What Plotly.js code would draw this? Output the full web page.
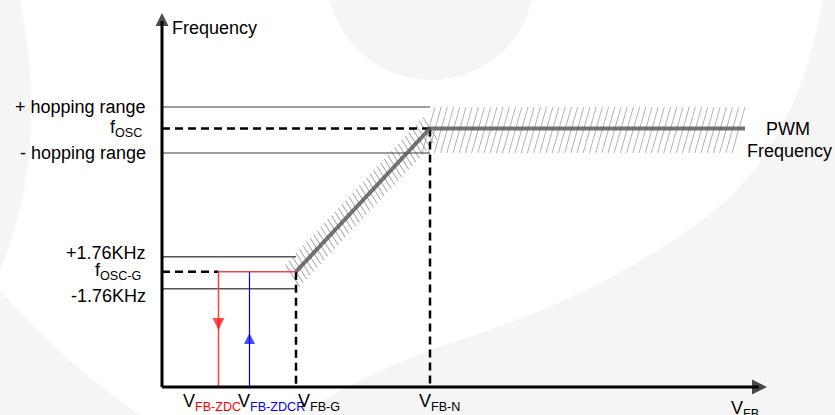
<!DOCTYPE html>
<html><head><meta charset="utf-8">
<script src="https://cdn.plot.ly/plotly-3.0.1.min.js"></script>
<style>html,body{margin:0;padding:0;background:#fff}</style>
</head><body><div id="chart" style="width:835px;height:415px"></div>
<script>
// ---- Data (schematic units; origin where the two axes meet) ----
// Feedback-voltage levels along the horizontal axis
const vNames  = ['V_FB-ZDC', 'V_FB-ZDCR', 'V_FB-G', 'V_FB-N', 'PWM end'];
const vLevels = [56.5, 87.5, 134, 268, 583];
// Frequency levels along the vertical axis
const fNames  = ['-1.76KHz', 'f_OSC-G', '+1.76KHz', '- hopping range', 'f_OSC', '+ hopping range'];
const fLevels = [98.3, 115.3, 130.3, 234, 258.5, 280];
// PWM frequency curve (V_FB, frequency)
const curveV = [134, 268, 583];
const curveF = [115.3, 258.5, 258.5];
// Axis extents
const axisEndV = 605;
const axisEndF = 374;
// Arrow marker positions on the ZDC / ZDCR lines
const arrowF = [57, 54];

const [vZDC, vZDCR, vG, vN, vEnd] = vLevels;
const [fGm, fG, fGp, fHm, fOSC, fHp] = fLevels;

const FONT = 'Liberation Sans, Arial, sans-serif';
const traces = [];

// ---- hatching texture around the PWM curve (decoration derived from the curve) ----
const bx = [], by = [], rx = [], ry = [];
// horizontal hopping band: steep "/" strokes
const lean = 13, step = 6.2;
for (let x = vN - 8; x + lean <= vEnd + 1; x += step) {
  bx.push(x, x + lean, null); by.push(fHm, fHp, null);
}
// ramp: "\" strokes crossing the ramp
const dv = curveV[1] - curveV[0], df = curveF[1] - curveF[0];
const len = Math.hypot(dv, df), nR = Math.round(len / 5.2);
for (let i = -1; i <= nR; i++) {
  const t = i / nR;
  const cx = curveV[0] + dv * t, cy = curveF[0] + df * t;
  rx.push(cx - 7, cx + 7, null); ry.push(cy + 11, cy - 11, null);
}
traces.push({x:bx, y:by, mode:'lines', line:{color:'#b3b3b3', width:1}});
traces.push({x:rx, y:ry, mode:'lines', line:{color:'#9e9e9e', width:1}});

// hopping range lines
traces.push({x:[0, vN, null, 0, vN], y:[fHp, fHp, null, fHm, fHm], mode:'lines',
  line:{color:'#3c3c3c', width:1.2}});
// +/-1.76KHz lines
traces.push({x:[0, vG, null, 0, vG], y:[fGp, fGp, null, fGm, fGm], mode:'lines',
  line:{color:'#555555', width:1.6}});
// dashed guides
traces.push({x:[0, vN, null, vN, vN, null, 0, vZDC, null, vG, vG],
  y:[fOSC, fOSC, null, fOSC, 0, null, fG, fG, null, fG, 0], mode:'lines',
  line:{color:'#000', width:2.5, dash:'8px,5px'}});
// red path (ZDC)
traces.push({x:[vG, vZDC, vZDC], y:[fG, fG, 0], mode:'lines', line:{color:'#ff4040', width:1.5}});
// blue path (ZDCR)
traces.push({x:[vZDCR, vZDCR], y:[fG, 0], mode:'lines', line:{color:'#0000ff', width:1.2}});
// arrows on red/blue lines
traces.push({x:[vZDC, vZDCR], y:arrowF, mode:'markers',
  marker:{symbol:['arrow-down','arrow-up'], size:[12,11], color:['#ff0000','#0000ff'], line:{width:0}}});
// PWM curve
traces.push({x:curveV, y:curveF, mode:'lines', line:{color:'rgba(90,90,90,0.85)', width:4}});
// axes
traces.push({x:[0, 0, null, 0, axisEndV-8], y:[0, axisEndF-8, null, 0, 0], mode:'lines',
  line:{color:'#000', width:3}});
traces.push({x:[0, axisEndV], y:[axisEndF, 0], mode:'markers',
  marker:{symbol:['arrow-up','arrow-right'], size:[13,15], color:'#000', line:{width:0}}});

// ---- background watermark (paper coords from pixels) ----
const W = 835, H = 415;
const P = (x, y) => (x / W).toFixed(4) + ',' + (1 - y / H).toFixed(4);
const G = '#f5f5f5';
const shapes = [
  {type:'circle', xref:'paper', yref:'paper', x0:327/W, x1:535/W, y0:1-80/H, y1:1+128/H,
   fillcolor:G, line:{width:0}, layer:'below'},
  {type:'path', xref:'paper', yref:'paper', layer:'below', fillcolor:G, line:{width:0},
   path:'M'+P(823,0)+' Q'+P(800,130)+' '+P(727,200)+' Q'+P(620,290)+' '+P(450,343)+
        ' Q'+P(360,375)+' '+P(300,415)+' L'+P(835,415)+' L'+P(835,0)+' Z'},
  {type:'path', xref:'paper', yref:'paper', layer:'below', fillcolor:G, line:{width:0},
   path:'M'+P(0,0)+' L'+P(20,0)+' Q'+P(50,150)+' '+P(0,270)+' Z'},
  {type:'path', xref:'paper', yref:'paper', layer:'below', fillcolor:G, line:{width:0},
   path:'M'+P(0,290)+' Q'+P(60,360)+' '+P(140,415)+' L'+P(0,415)+' Z'}
];

const ann = (text, x, y, xa, ya, extra) => Object.assign({text, x, y, xref:'x', yref:'y',
  xanchor:xa, yanchor:ya, showarrow:false, font:{family:FONT, size:18, color:'#000'}}, extra || {});
const red = s => '<span style="color:#ff0000">' + s + '</span>';
const blue = s => '<span style="color:#0000ff">' + s + '</span>';

const annotations = [
  ann('Frequency', 8, 359, 'left', 'middle'),
  ann('+ hopping range', -14, fHp, 'right', 'middle'),
  ann('f<sub>OSC</sub>', -18, fOSC, 'right', 'middle'),
  ann('- hopping range', -14, fHm, 'right', 'middle'),
  ann('+1.76KHz', -14, fGp + 4, 'right', 'middle'),
  ann('f<sub>OSC-G</sub>', -19, fG, 'right', 'middle'),
  ann('-1.76KHz', -14, fGm - 7, 'right', 'middle'),
  ann('V<sub>' + red('FB-ZDC') + '</sub>', vZDC - 38, -2, 'left', 'top'),
  ann('V<sub>' + blue('FB-ZDCR') + '</sub>', vZDCR - 14, -2, 'left', 'top'),
  ann('V<sub>FB-G</sub>', vG, -2, 'left', 'top'),
  ann('V<sub>FB-N</sub>', vN - 13, -2, 'left', 'top'),
  ann('V<sub>FB</sub>', 567, -9, 'left', 'top'),
  ann('PWM', 626, fOSC, 'center', 'middle'),
  ann('Frequency', 627, fOSC - 22, 'center', 'middle')
];

const layout = {
  width: W, height: H, margin:{l:0, r:0, t:0, b:0, pad:0},
  paper_bgcolor:'#ffffff', plot_bgcolor:'rgba(0,0,0,0)',
  xaxis:{range:[-162, 673], visible:false, fixedrange:true},
  yaxis:{range:[-28, 387], visible:false, fixedrange:true},
  showlegend:false, hovermode:false, shapes, annotations
};
Plotly.newPlot('chart', traces, layout, {staticPlot:true, displayModeBar:false});
</script></body></html>
